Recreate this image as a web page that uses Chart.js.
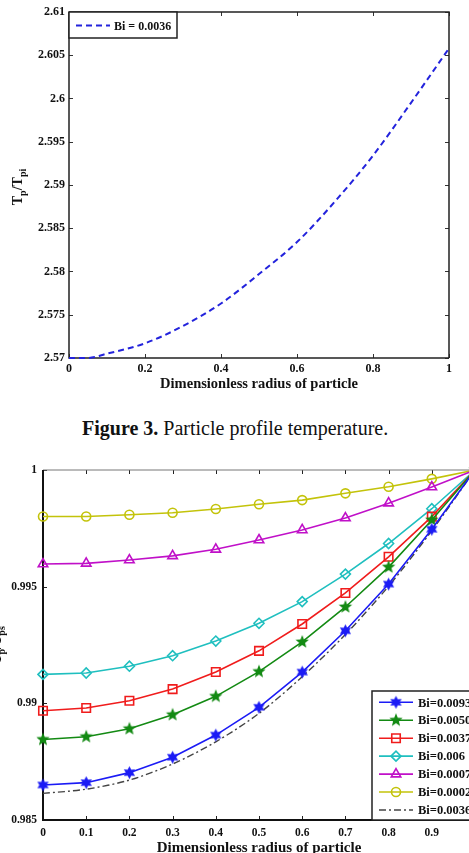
<!DOCTYPE html>
<html lang="en">
<head>
  <meta charset="UTF-8" />
  <title>Particle profile temperature</title>
  <script src="https://cdn.jsdelivr.net/npm/chart.js"></script>
  <style>
    html, body {
      margin: 0;
      padding: 0;
      width: 469px;
      height: 853px;
      overflow: hidden;
      background: #fff;
      font-family: 'Liberation Serif', serif;
    }
    body { position: relative; }
    .box { position: absolute; left: 0; }
    .ytitle {
      position: absolute;
      width: 120px;
      height: 16px;
      line-height: 16px;
      text-align: center;
      font-weight: bold;
      font-size: 14px;
      color: #111;
      transform: rotate(-90deg);
      white-space: nowrap;
    }
    .ytitle sub { font-size: 10px; }
    #caption {
      position: absolute;
      left: 82px;
      top: 417px;
      font-size: 20px;
      color: #111;
      white-space: nowrap;
    }
  </style>
</head>
<body>

<div class="box" style="top:0;width:469px;height:400px"><canvas id="topChart" width="469" height="400"></canvas></div>
<div class="ytitle" style="left:-42px;top:179px">T<sub>p</sub>/T<sub>pi</sub></div>
<div id="caption"><b>Figure 3.</b> Particle profile temperature.</div>
<div class="box" style="top:450px;width:490px;height:410px"><canvas id="bottomChart" width="490" height="410"></canvas></div>
<div class="ytitle" style="left:-63px;top:637px">T<sub>p</sub>/T<sub>ps</sub></div>

<script>
  // top figure: single curve
  const xTop = [0, 0.05, 0.1, 0.2, 0.3, 0.4, 0.5, 0.6, 0.7, 0.8, 0.9, 1];
  const tpTop = [2.5700, 2.5700, 2.5705, 2.5717, 2.5737, 2.5763, 2.5797, 2.5834, 2.5881, 2.5934, 2.5995, 2.6058];
  const xTicksTop = [0, 0.2, 0.4, 0.6, 0.8, 1];
  const yTicksTop = [2.57, 2.575, 2.58, 2.585, 2.59, 2.595, 2.6, 2.605, 2.61];

  // bottom figure: several Biot numbers
  const xBot = [0, 0.1, 0.2, 0.3, 0.4, 0.5, 0.6, 0.7, 0.8, 0.9, 1];
  const bi0093 = [0.98650, 0.98660, 0.98703, 0.98769, 0.98864, 0.98983, 0.99134, 0.99311, 0.99511, 0.99746, 1.0];
  const bi0050 = [0.98845, 0.98857, 0.98891, 0.98951, 0.99030, 0.99136, 0.99263, 0.99413, 0.99584, 0.99786, 1.0];
  const bi0037 = [0.98968, 0.98980, 0.99011, 0.99061, 0.99134, 0.99225, 0.99340, 0.99473, 0.99628, 0.99800, 1.0];
  const bi006  = [0.99124, 0.99130, 0.99159, 0.99204, 0.99267, 0.99343, 0.99436, 0.99554, 0.99685, 0.99834, 1.0];
  const bi0007 = [0.99597, 0.99600, 0.99614, 0.99632, 0.99660, 0.99700, 0.99743, 0.99794, 0.99858, 0.99927, 1.0];
  const bi0002 = [0.99801, 0.99801, 0.99808, 0.99817, 0.99833, 0.99853, 0.99871, 0.99900, 0.99928, 0.99962, 1.0];
  const bi0036 = [0.98614, 0.98632, 0.98671, 0.98740, 0.98835, 0.98957, 0.99114, 0.99295, 0.99502, 0.99740, 1.0];
  const botLabels = ['Bi=0.0093', 'Bi=0.0050', 'Bi=0.0037', 'Bi=0.006', 'Bi=0.0007', 'Bi=0.0002', 'Bi=0.0036'];
  const xTicksBot = [0, 0.1, 0.2, 0.3, 0.4, 0.5, 0.6, 0.7, 0.8, 0.9, 1];
  const yTicksBot = [0.985, 0.99, 0.995, 1];

  Chart.defaults.font.family = "'Liberation Serif', serif";
  Chart.defaults.color = '#111';

  const pts = (xs, ys) => xs.map((x, i) => ({ x, y: ys[i] }));

  function starImage(n, outer, inner, color) {
    const s = Math.ceil(outer * 2 + 2);
    const c = document.createElement('canvas');
    c.width = s; c.height = s;
    const g = c.getContext('2d');
    g.translate(s / 2, s / 2);
    g.beginPath();
    for (let i = 0; i < n * 2; i++) {
      const r = i % 2 ? inner : outer;
      const a = -Math.PI / 2 + i * Math.PI / n;
      g.lineTo(r * Math.cos(a), r * Math.sin(a));
    }
    g.closePath();
    g.fillStyle = color;
    g.fill();
    return c;
  }

  // box around plot area with inward ticks (matlab style)
  const framePlugin = {
    id: 'frame',
    beforeDatasetsDraw(chart, args, o) {
      const { ctx, chartArea: a, scales: { x, y } } = chart;
      const L = o.tickLen || 4;
      ctx.save();
      ctx.strokeStyle = o.tickColor;
      ctx.lineWidth = 1;
      ctx.beginPath();
      x.ticks.forEach(t => {
        const px = Math.round(x.getPixelForValue(t.value)) + 0.5;
        ctx.moveTo(px, a.bottom); ctx.lineTo(px, a.bottom - L);
        ctx.moveTo(px, a.top); ctx.lineTo(px, a.top + L);
      });
      y.ticks.forEach(t => {
        const py = Math.round(y.getPixelForValue(t.value)) + 0.5;
        ctx.moveTo(a.left, py); ctx.lineTo(a.left + L, py);
        ctx.moveTo(a.right, py); ctx.lineTo(a.right - L, py);
      });
      ctx.stroke();
      // top + right
      ctx.strokeStyle = o.edgeColor;
      ctx.lineWidth = o.edgeWidth;
      ctx.beginPath();
      ctx.moveTo(a.left, a.top); ctx.lineTo(a.right, a.top); ctx.lineTo(a.right, a.bottom);
      ctx.stroke();
      // left + bottom
      ctx.strokeStyle = o.axisColor;
      ctx.lineWidth = o.axisWidth;
      ctx.beginPath();
      ctx.moveTo(a.left, a.top); ctx.lineTo(a.left, a.bottom); ctx.lineTo(a.right, a.bottom);
      ctx.stroke();
      ctx.restore();
    }
  };

  // legend drawn in a box at a fixed spot
  const boxLegend = {
    id: 'boxLegend',
    afterDatasetsDraw(chart, args, o) {
      const ctx = chart.ctx;
      ctx.save();
      ctx.fillStyle = '#fff';
      ctx.fillRect(o.x, o.y, o.w, o.h);
      ctx.strokeStyle = '#222';
      ctx.lineWidth = 1.5;
      ctx.strokeRect(o.x, o.y, o.w, o.h);
      chart.data.datasets.forEach((ds, i) => {
        const cy = o.firstRow + i * o.rowGap;
        ctx.strokeStyle = ds.borderColor;
        ctx.lineWidth = ds.borderWidth;
        ctx.setLineDash(ds.borderDash || []);
        ctx.beginPath();
        ctx.moveTo(o.lineX0, cy); ctx.lineTo(o.lineX1, cy);
        ctx.stroke();
        ctx.setLineDash([]);
        if (ds.pointRadius > 0 && Chart.helpers && Chart.helpers.drawPoint) {
          ctx.fillStyle = ds.pointBackgroundColor;
          ctx.strokeStyle = ds.borderColor;
          ctx.lineWidth = ds.pointBorderWidth;
          Chart.helpers.drawPoint(ctx, {
            pointStyle: ds.pointStyle, radius: ds.pointRadius,
            borderWidth: ds.pointBorderWidth, rotation: 0
          }, (o.lineX0 + o.lineX1) / 2, cy);
        }
        ctx.fillStyle = '#111';
        ctx.font = o.font;
        ctx.textBaseline = 'middle';
        ctx.textAlign = 'left';
        ctx.fillText(ds.label, o.textX, cy + 1);
      });
      ctx.restore();
    }
  };

  const tickFont = size => ({ size, weight: 'bold' });

  new Chart(document.getElementById('topChart'), {
    type: 'line',
    data: {
      datasets: [{
        label: 'Bi = 0.0036',
        data: pts(xTop, tpTop),
        borderColor: '#2323dc',
        borderWidth: 2,
        borderDash: [6, 4],
        pointRadius: 0,
        cubicInterpolationMode: 'monotone',
        fill: false,
        clip: false
      }]
    },
    options: {
      responsive: false,
      animation: false,
      layout: { padding: { top: 12, right: 20, left: 0, bottom: 0 } },
      plugins: {
        legend: { display: false },
        tooltip: { enabled: false },
        frame: { tickLen: 4, tickColor: '#333', edgeColor: '#222', edgeWidth: 1.5, axisColor: '#222', axisWidth: 1.5 },
        boxLegend: { x: 69, y: 12, w: 108, h: 26, firstRow: 25.5, rowGap: 18, lineX0: 76, lineX1: 110, textX: 114, font: "bold 12px 'Liberation Serif'" }
      },
      scales: {
        x: {
          type: 'linear', min: 0, max: 1,
          grid: { display: false, drawTicks: false }, border: { display: false },
          afterBuildTicks: s => { s.ticks = xTicksTop.map(v => ({ value: v })); },
          afterFit: s => { s.height = 42; },
          ticks: { padding: 4, font: tickFont(12), maxRotation: 0, autoSkip: false, callback: v => String(v) },
          title: { display: true, text: 'Dimensionless radius of particle', font: tickFont(14.5), padding: { top: 0, bottom: 7 } }
        },
        y: {
          type: 'linear', min: 2.57, max: 2.61,
          grid: { display: false, drawTicks: false }, border: { display: false },
          afterBuildTicks: s => { s.ticks = yTicksTop.map(v => ({ value: v })); },
          afterFit: s => { s.width = 69; },
          ticks: { padding: 4, font: tickFont(12), autoSkip: false, callback: v => String(v) }
        }
      }
    },
    plugins: [framePlugin, boxLegend]
  });

  const hexBlue = starImage(6, 6.5, 3.6, '#1b1bf5');
  const pentGreen = starImage(5, 7, 3, '#138a13');
  const none = 'rgba(0,0,0,0)';

  function series(label, ys, color, style, radius, extra) {
    return Object.assign({
      label, data: pts(xBot, ys),
      borderColor: color, borderWidth: 1.6,
      pointStyle: style, pointRadius: radius, pointBorderWidth: 1.6,
      pointBackgroundColor: none, pointBorderColor: color,
      tension: 0, fill: false, clip: false
    }, extra || {});
  }

  new Chart(document.getElementById('bottomChart'), {
    type: 'line',
    data: {
      datasets: [
        series(botLabels[0], bi0093, '#1b1bf5', hexBlue, 6),
        series(botLabels[1], bi0050, '#138a13', pentGreen, 6),
        series(botLabels[2], bi0037, '#f01c1c', 'rect', 6),
        series(botLabels[3], bi006, '#1fbfbf', 'rectRot', 5),
        series(botLabels[4], bi0007, '#c010c8', 'triangle', 5.5),
        series(botLabels[5], bi0002, '#c3c30a', 'circle', 4.5),
        series(botLabels[6], bi0036, '#444', 'circle', 0, { borderDash: [7, 3, 2, 3], borderWidth: 1.4, tension: 0.3 })
      ]
    },
    options: {
      responsive: false,
      animation: false,
      layout: { padding: { top: 20, right: 15, left: 0, bottom: 0 } },
      plugins: {
        legend: { display: false },
        tooltip: { enabled: false },
        frame: { tickLen: 4, tickColor: '#222', edgeColor: '#777', edgeWidth: 1, axisColor: '#111', axisWidth: 2 },
        boxLegend: { x: 372, y: 241, w: 200, h: 129, firstRow: 252.3, rowGap: 17.95, lineX0: 379, lineX1: 413, textX: 418, font: "bold 12.5px 'Liberation Serif'" }
      },
      scales: {
        x: {
          type: 'linear', min: 0, max: 1,
          grid: { display: false, drawTicks: false }, border: { display: false },
          afterBuildTicks: s => { s.ticks = xTicksBot.map(v => ({ value: v })); },
          afterFit: s => { s.height = 40; },
          ticks: { padding: 6, font: tickFont(11.5), maxRotation: 0, autoSkip: false, callback: v => String(v) },
          title: { display: true, text: 'Dimensionless radius of particle', font: tickFont(15), padding: { top: 0, bottom: 3 } }
        },
        y: {
          type: 'linear', min: 0.985, max: 1,
          grid: { display: false, drawTicks: false }, border: { display: false },
          afterBuildTicks: s => { s.ticks = yTicksBot.map(v => ({ value: v })); },
          afterFit: s => { s.width = 43; },
          ticks: { padding: 6, font: tickFont(11.5), autoSkip: false, callback: v => String(v) }
        }
      }
    },
    plugins: [framePlugin, boxLegend]
  });
</script>

</body>
</html>
